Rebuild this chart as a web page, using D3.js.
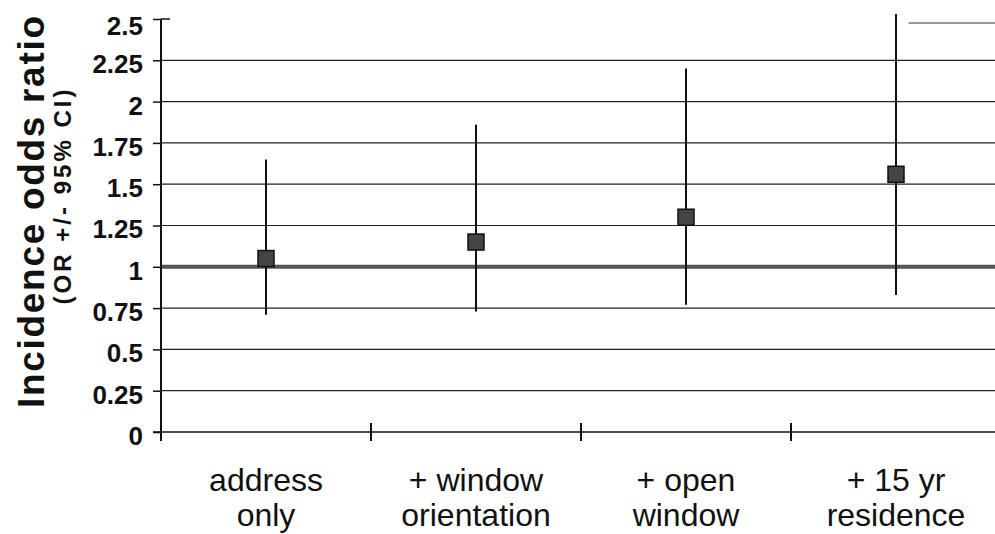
<!DOCTYPE html>
<html>
<head>
<meta charset="utf-8">
<script src="https://cdn.jsdelivr.net/npm/d3@7"></script>
<style>
  body { margin: 0; background: #fff; }
  svg { font-family: "Liberation Sans", Arial, sans-serif; }
</style>
</head>
<body>
<svg id="chart" width="995" height="534"></svg>
<script>
// categories (two text lines each)
const categories = ["address only", "+ window orientation", "+ open window", "+ 15 yr residence"]
const categoryLines = [["address", "only"], ["+ window", "orientation"], ["+ open", "window"], ["+ 15 yr", "residence"]]

// odds ratio and 95% CI
const oddsRatio = [1.05, 1.15, 1.30, 1.56]
const ciLow = [0.71, 0.73, 0.77, 0.83]
const ciHigh = [1.65, 1.86, 2.20, 2.53]

const yTicks = [0, 0.25, 0.5, 0.75, 1, 1.25, 1.5, 1.75, 2, 2.25, 2.5]
const yTickLabels = ["0", "0.25", "0.5", "0.75", "1", "1.25", "1.5", "1.75", "2", "2.25", "2.5"]

const margin = { top: 19, right: -6, bottom: 102, left: 161 }
const svg = d3.select("#chart")
const width = 995, height = 534
const innerW = width - margin.left - margin.right
const innerH = height - margin.top - margin.bottom

const g = svg.append("g").attr("transform", `translate(${margin.left},${margin.top})`)

const x = d3.scaleBand().domain(categories).range([0, innerW])
const y = d3.scaleLinear().domain([0, 2.5]).range([innerH, 0])

// gridlines
g.selectAll(".grid")
  .data(yTicks.filter(d => d > 0 && d < 2.5 && d !== 1))
  .enter().append("line")
  .attr("class", "grid")
  .attr("x1", 0).attr("x2", innerW)
  .attr("y1", d => y(d)).attr("y2", d => y(d))
  .attr("stroke", "#222").attr("stroke-width", 1.2)

// partial line at top right
g.append("line")
  .attr("x1", x(categories[3]) + x.bandwidth() * 0.56).attr("x2", innerW)
  .attr("y1", y(2.5) + 4).attr("y2", y(2.5) + 4)
  .attr("stroke", "#333").attr("stroke-width", 1.2)

// reference line at 1
g.append("line")
  .attr("x1", 0).attr("x2", innerW)
  .attr("y1", y(1)).attr("y2", y(1))
  .attr("stroke", "#555").attr("stroke-width", 4)

// y axis
const yAxis = d3.axisLeft(y).tickValues(yTicks)
  .tickFormat((d, i) => yTickLabels[i]).tickSize(8).tickPadding(10)
const yg = g.append("g").call(yAxis)
yg.select(".domain").remove()
yg.selectAll(".tick line").attr("stroke", "#111").attr("stroke-width", 1.5)
yg.selectAll(".tick text")
  .attr("font-size", 26).attr("font-weight", "bold").attr("fill", "#111")
  .attr("font-family", "Liberation Sans, Arial, sans-serif")
  .attr("dy", (d) => d === 2.5 ? "0.6em" : "0.48em")
g.append("line")
  .attr("x1", 0).attr("x2", 0).attr("y1", y(2.5)).attr("y2", innerH + 8)
  .attr("stroke", "#111").attr("stroke-width", 2)
g.append("line")
  .attr("x1", 0).attr("x2", 9).attr("y1", y(2.5)).attr("y2", y(2.5))
  .attr("stroke", "#111").attr("stroke-width", 1.5)

// x axis
g.append("line")
  .attr("x1", -8).attr("x2", innerW)
  .attr("y1", innerH).attr("y2", innerH)
  .attr("stroke", "#111").attr("stroke-width", 1.5)
g.selectAll(".xtick")
  .data(categories)
  .enter().append("line")
  .attr("class", "xtick")
  .attr("x1", d => x(d)).attr("x2", d => x(d))
  .attr("y1", (d, i) => i === 0 ? innerH : innerH - 9)
  .attr("y2", innerH + 9)
  .attr("stroke", "#111").attr("stroke-width", 2)

// category labels
const labels = g.selectAll(".xlabel")
  .data(categoryLines)
  .enter().append("text")
  .attr("class", "xlabel")
  .attr("text-anchor", "middle")
  .attr("font-size", 32)
  .attr("fill", "#111")
labels.each(function (lines, i) {
  const cx = x(categories[i]) + x.bandwidth() / 2
  d3.select(this).selectAll("tspan")
    .data(lines)
    .enter().append("tspan")
    .attr("x", cx)
    .attr("y", (d, j) => innerH + 59 + j * 35)
    .text(d => d)
})

// error bars
const cx = i => x(categories[i]) + x.bandwidth() / 2
g.selectAll(".ci")
  .data(oddsRatio)
  .enter().append("line")
  .attr("class", "ci")
  .attr("x1", (d, i) => cx(i)).attr("x2", (d, i) => cx(i))
  .attr("y1", (d, i) => y(ciLow[i])).attr("y2", (d, i) => y(ciHigh[i]))
  .attr("stroke", "#111").attr("stroke-width", 2)

// point markers
const s = 16
g.selectAll(".pt")
  .data(oddsRatio)
  .enter().append("rect")
  .attr("class", "pt")
  .attr("x", (d, i) => cx(i) - s / 2)
  .attr("y", d => y(d) - s / 2)
  .attr("width", s).attr("height", s)
  .attr("fill", "#444").attr("stroke", "#111").attr("stroke-width", 1.5)

// y axis title
svg.append("text")
  .attr("transform", "translate(44,212) rotate(-90)")
  .attr("text-anchor", "middle")
  .attr("font-size", 37).attr("font-weight", "bold").attr("fill", "#111")
  .attr("textLength", 392).attr("lengthAdjust", "spacing")
  .text("Incidence odds ratio")
svg.append("text")
  .attr("transform", "translate(71,197) rotate(-90)")
  .attr("text-anchor", "middle")
  .attr("font-size", 24).attr("font-weight", "bold").attr("fill", "#111")
  .attr("textLength", 215).attr("lengthAdjust", "spacing")
  .text("(OR +/- 95% CI)")
</script>
</body>
</html>
